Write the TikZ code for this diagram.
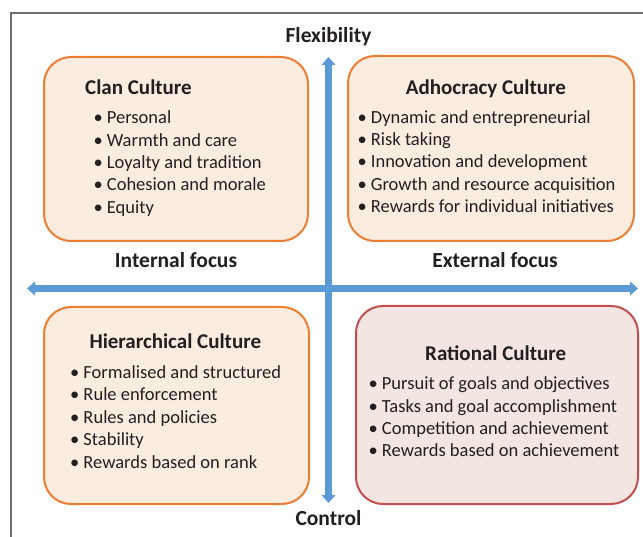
\documentclass[tikz,border=0pt]{standalone}
\usepackage{fontspec}
\setmainfont{Carlito}
\usetikzlibrary{arrows.meta}
\definecolor{ink}{HTML}{231F20}
\definecolor{peach}{HTML}{FBECE0}
\definecolor{orng}{HTML}{ED7D31}
\definecolor{rose}{HTML}{F3E5E2}
\definecolor{brick}{HTML}{C0504D}
\definecolor{axisblue}{HTML}{5B9BD5}
\definecolor{framegray}{HTML}{6E6E6E}
\tikzset{
  cbox/.style={draw=orng, fill=peach, line width=2pt, rounded corners=27pt, anchor=north west, inner sep=0pt},
  rbox/.style={cbox, draw=brick, fill=rose},
  ttl/.style={anchor=base west, inner sep=0pt, text=ink, font=\fontsize{21}{24}\selectfont\bfseries},
  axlab/.style={anchor=base, inner sep=0pt, text=ink, font=\fontsize{21.5}{24}\selectfont\bfseries},
  itm/.style={anchor=base west, inner sep=0pt, text=ink, font=\fontsize{18.5}{22}\selectfont},
  axis/.style={draw=axisblue, line width=6.5pt, {Triangle[width=13.5pt,length=8pt]}-{Triangle[width=13.5pt,length=8pt]}}
}
\newcommand{\bul}{\llap{\textbullet\ }}
\begin{document}
\begin{tikzpicture}[x=1pt,y=-1pt]
\useasboundingbox (0,0) rectangle (643,537);
% frame (clipped on right and bottom)
\coordinate (fbl) at (11,537);
\coordinate (ftl) at (11,13);
\coordinate (ftr) at (643,13);
\draw[framegray, line width=1.5pt] (fbl) -- (ftl) -- (ftr);

% boxes
\node[cbox, minimum width=264pt, minimum height=184pt] (clan) at (43,56) {};
\node[cbox, minimum width=286pt, minimum height=185pt] (adho) at (347,55) {};
\node[cbox, minimum width=265pt, minimum height=197pt] (hier) at (43,306) {};
\node[rbox, minimum width=282pt, minimum height=198pt] (rati) at (355,305) {};

% axes
\coordinate (vtop) at (328.5,57);
\coordinate (vbot) at (328.5,503);
\coordinate (hleft) at (27,288.5);
\coordinate (hright) at (638,288.5);
\draw[axis] (hleft) -- (hright);
\draw[axis] (vtop) -- (vbot);

% axis labels
\node[axlab] (flex) at (328.5,42.7) {Flexibility};
\node[axlab] (ctrl) at (328.5,525) {Control};
\node[axlab] (intf) at (176,267.3) {Internal focus};
\node[axlab] (extf) at (495,267.3) {External focus};

% Clan
\node[ttl] (clanT) at (85,94.3) {Clan Culture};
\foreach \t [count=\i from 0] in {Personal, Warmth and care, Loyalty and tradition, Cohesion and morale, Equity}
  \node[itm] (clan\i) at (106.7,124+22.3*\i) {\bul\t};

% Adhocracy
\node[ttl] (adhoT) at (405.7,94.3) {Adhocracy Culture};
\foreach \t [count=\i from 0] in {Dynamic and entrepreneurial, Risk taking, Innovation and development, Growth and resource acquisition, Rewards for individual initiatives}
  \node[itm] (adho\i) at (370.7,123.3+22.25*\i) {\bul\t};

% Hierarchical
\node[ttl] (hierT) at (89.3,349) {Hierarchical Culture};
\foreach \t [count=\i from 0] in {Formalised and structured, Rule enforcement, Rules and policies, Stability, Rewards based on rank}
  \node[itm] (hier\i) at (83.3,378.3+22.5*\i) {\bul\t};

% Rational
\node[ttl] (ratiT) at (425,361) {Rational Culture};
\foreach \t [count=\i from 0] in {Pursuit of goals and objectives, Tasks and goal accomplishment, Competition and achievement, Rewards based on achievement}
  \node[itm] (rati\i) at (381.7,390+22.2*\i) {\bul\t};
\end{tikzpicture}
\end{document}
